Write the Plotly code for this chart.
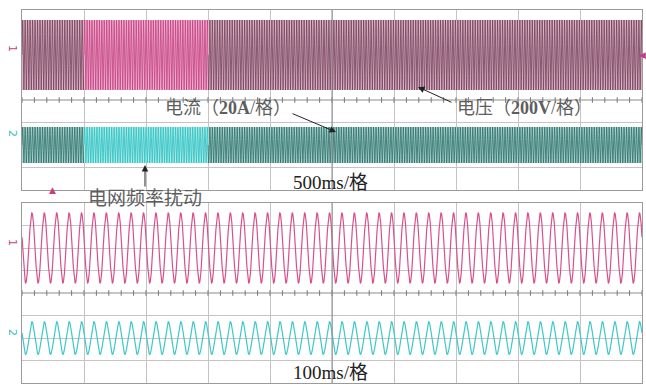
import numpy as np
import plotly.graph_objects as go

W, H = 646, 388

# ---- scope settings -------------------------------------------------------
N_XDIV, N_YDIV = 10, 8
TOP_TIME_PER_DIV = 0.5      # s/div (500ms/格)
BOT_TIME_PER_DIV = 0.1      # s/div (100ms/格)
V_PER_DIV = 200.0           # V/div
I_PER_DIV = 20.0            # A/div
V_OFFSET_DIV = 2.0          # voltage trace position (div above centre)
I_OFFSET_DIV = -2.0         # current trace position (div below centre)

# ---- signal parameters ----------------------------------------------------
V_PEAK = [311.0, 311.0]     # voltage peak, top / bottom record (V)
I_PEAK = [16.0, 14.5]       # current peak, top / bottom record (A)

# top record: frequency segments (start s, end s, Hz, highlighted?)
SEG_START = [0.0, 0.5, 1.5]
SEG_END = [0.5, 1.5, 5.0]
SEG_FREQ = [50.0, 50.5, 50.0]
SEG_HILITE = [False, True, False]

# bottom record
BOT_FREQ = 50.0
BOT_FIRST_PEAK = 0.016      # s

# colours
V_DARK, V_DARK_BAND = "#74405a", "#dcb6c7"
V_HI, V_HI_BAND = "#c43f80", "#f0b4d2"
I_DARK, I_DARK_BAND = "#2e706a", "#acd4d0"
I_HI, I_HI_BAND = "#2cc0c0", "#b4ecec"
V_BOT, I_BOT = "#d8508e", "#3ec8c8"
GRID = "#c4c4c4"
FRAME = "#9a9a9a"


def px(x):
    return x / W


def py(y):
    return 1 - y / H


fig = go.Figure()

# ---- top record (500 ms/div) ---------------------------------------------
fs = 1000.0
t_top = np.arange(0, N_XDIV * TOP_TIME_PER_DIV + 1 / fs, 1 / fs)
freq = np.full_like(t_top, SEG_FREQ[0])
for s, e, f in zip(SEG_START, SEG_END, SEG_FREQ):
    freq[(t_top >= s) & (t_top <= e)] = f
phase = 2 * np.pi * np.concatenate([[0.0], np.cumsum(freq[:-1]) / fs])

v_top = V_PEAK[0] * np.sin(phase) / V_PER_DIV + V_OFFSET_DIV
i_top = I_PEAK[0] * np.sin(phase) / I_PER_DIV + I_OFFSET_DIV

for s, e, hi in zip(SEG_START, SEG_END, SEG_HILITE):
    m = (t_top >= s) & (t_top <= e)
    for peak, scale, off, band in (
        (V_PEAK[0], V_PER_DIV, V_OFFSET_DIV, V_HI_BAND if hi else V_DARK_BAND),
        (I_PEAK[0], I_PER_DIV, I_OFFSET_DIV, I_HI_BAND if hi else I_DARK_BAND),
    ):
        a = peak / scale
        fig.add_trace(go.Scatter(
            x=[s, e, e, s, s], y=[off + a, off + a, off - a, off - a, off + a],
            fill="toself", fillcolor=band, line=dict(width=0),
            mode="lines", hoverinfo="skip", xaxis="x", yaxis="y"))
    fig.add_trace(go.Scatter(
        x=t_top[m], y=v_top[m], mode="lines",
        line=dict(color=V_HI if hi else V_DARK, width=0.8),
        xaxis="x", yaxis="y", hoverinfo="skip"))
    fig.add_trace(go.Scatter(
        x=t_top[m], y=i_top[m], mode="lines",
        line=dict(color=I_HI if hi else I_DARK, width=0.8),
        xaxis="x", yaxis="y", hoverinfo="skip"))

# ---- bottom record (100 ms/div) ------------------------------------------
fs_b = 5000.0
t_bot = np.arange(0, N_XDIV * BOT_TIME_PER_DIV + 1 / fs_b, 1 / fs_b)
ph_b = 2 * np.pi * BOT_FREQ * (t_bot - BOT_FIRST_PEAK)
v_bot = V_PEAK[1] * np.cos(ph_b) / V_PER_DIV + V_OFFSET_DIV
i_bot = I_PEAK[1] * np.cos(ph_b) / I_PER_DIV + I_OFFSET_DIV
fig.add_trace(go.Scatter(x=t_bot, y=v_bot, mode="lines",
                         line=dict(color=V_BOT, width=1.2),
                         xaxis="x2", yaxis="y2", hoverinfo="skip"))
fig.add_trace(go.Scatter(x=t_bot, y=i_bot, mode="lines",
                         line=dict(color=I_BOT, width=1.2),
                         xaxis="x2", yaxis="y2", hoverinfo="skip"))

# minor ticks on the horizontal centre line of each screen
for xa, ya, tpd in (("x", "y", TOP_TIME_PER_DIV), ("x2", "y2", BOT_TIME_PER_DIV)):
    xt = np.arange(0, N_XDIV * tpd + 1e-9, tpd / 5)
    fig.add_trace(go.Scatter(
        x=xt, y=np.zeros_like(xt), mode="markers",
        marker=dict(symbol="line-ns", size=4, line=dict(color="#777", width=1)),
        xaxis=xa, yaxis=ya, hoverinfo="skip"))

x_dom = [px(22), px(642)]
axis_common = dict(showticklabels=False, ticks="", showgrid=True,
                   gridcolor=GRID, gridwidth=1, showline=True, mirror=True,
                   linecolor=FRAME, linewidth=1, zeroline=False)
fig.update_layout(
    width=W, height=H, margin=dict(l=0, r=0, t=0, b=0),
    paper_bgcolor="white", plot_bgcolor="white", showlegend=False,
    xaxis=dict(domain=x_dom, range=[0, N_XDIV * TOP_TIME_PER_DIV],
               dtick=TOP_TIME_PER_DIV, anchor="y", **axis_common),
    yaxis=dict(domain=[py(190), py(10)], range=[-N_YDIV / 2, N_YDIV / 2],
               dtick=1, anchor="x", **axis_common),
    xaxis2=dict(domain=x_dom, range=[0, N_XDIV * BOT_TIME_PER_DIV],
                dtick=BOT_TIME_PER_DIV, anchor="y2", **axis_common),
    yaxis2=dict(domain=[py(383), py(203)], range=[-N_YDIV / 2, N_YDIV / 2],
                dtick=1, anchor="x2", **axis_common),
)

# centre cross lines
for xa, ya, tpd in (("x", "y", TOP_TIME_PER_DIV), ("x2", "y2", BOT_TIME_PER_DIV)):
    fig.add_shape(type="line", xref=xa, yref=ya, x0=0, x1=N_XDIV * tpd, y0=0, y1=0,
                  line=dict(color="#8c8c8c", width=1), layer="below")
    fig.add_shape(type="line", xref=xa, yref=ya, x0=N_XDIV * tpd / 2,
                  x1=N_XDIV * tpd / 2, y0=-N_YDIV / 2, y1=N_YDIV / 2,
                  line=dict(color="#8c8c8c", width=1), layer="above")

FONT = "Liberation Serif, Noto Sans CJK SC, serif"


def label(text, x, y, size=18, color="#5e5e5e"):
    fig.add_annotation(text=text, x=px(x), y=py(y), xref="paper", yref="paper",
                       xanchor="center", yanchor="middle", showarrow=False,
                       font=dict(family=FONT, size=size, color=color))


def arrow(x0, y0, x1, y1):
    # arrow from pixel (x0, y0) to pixel (x1, y1)
    fig.add_annotation(text="", x=px(x1), y=py(y1), xref="paper", yref="paper",
                       ax=x0 - x1, ay=y0 - y1, axref="pixel", ayref="pixel",
                       showarrow=True, arrowhead=2, arrowsize=1.3, arrowwidth=1,
                       arrowcolor="#222")


label("电流（<b>20A</b>/格）", 228, 108)
arrow(291, 113, 336, 132)
label("电压（<b>200V</b>/格）", 524, 108)
arrow(453, 103, 418, 87)
label("500ms/格", 330, 182, size=19, color="#222")
label("电网频率扰动", 145, 198, size=19)
arrow(145, 188, 145, 165)
label("100ms/格", 330, 372, size=19, color="#222")

# channel markers
for txt, x, y, c in (("1", 13, 48, V_HI), ("2", 13, 133, I_HI),
                      ("1", 13, 242, V_HI), ("2", 13, 332, I_HI)):
    fig.add_annotation(text=txt, x=px(x), y=py(y), xref="paper", yref="paper",
                       xanchor="center", yanchor="middle",
                       showarrow=False, textangle=90,
                       font=dict(family="DejaVu Sans", size=11, color=c))
fig.add_annotation(text="▲", x=px(52), y=py(190), xref="paper", yref="paper",
                   xanchor="center", yanchor="middle",
                   showarrow=False, font=dict(family="DejaVu Sans", size=9, color=V_HI))
fig.add_annotation(text="◀", x=px(642), y=py(55), xref="paper", yref="paper",
                   xanchor="center", yanchor="middle",
                   showarrow=False, font=dict(family="DejaVu Sans", size=9, color=V_HI))

fig.write_html("out.html")
